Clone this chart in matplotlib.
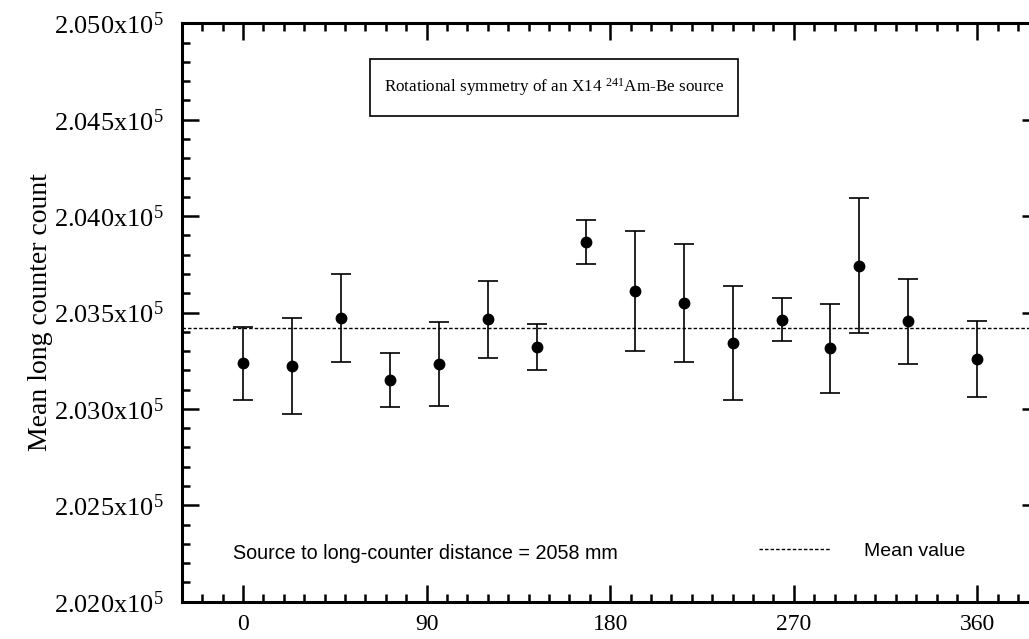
""" Rotational symmetry of an X14 241Am-Be source """
""" Mean long counter count vs. source rotation angle """

import matplotlib
matplotlib.use("Agg")
import matplotlib.pyplot as plt
from matplotlib.patches import Rectangle
from matplotlib.ticker import MultipleLocator, FuncFormatter

plt.rcParams['font.family'] = ['Liberation Serif', 'DejaVu Serif']
plt.rcParams['mathtext.fontset'] = 'custom'
plt.rcParams['mathtext.rm'] = 'Liberation Serif'
plt.rcParams['mathtext.it'] = 'Liberation Serif:italic'

# Data (angle in degrees, mean count, 1 sigma)
angle = [0, 24, 48, 72, 96, 120, 144, 168, 192, 216, 240, 264, 288, 302, 326, 360]
counts = [203237, 203224, 203473, 203148, 203233, 203466, 203321, 203867,
          203612, 203549, 203343, 203463, 203314, 203743, 203454, 203259]
errors = [190, 250, 228, 140, 220, 200, 118, 114,
          312, 305, 295, 112, 232, 350, 219, 197]
mean_value = 203421

x_ticks = [0, 90, 180, 270, 360]

fig = plt.figure(figsize=(10.29, 6.39), dpi=100)
ax = fig.add_axes([0.1766, 0.0584, 0.8327, 0.9051])

ax.errorbar(angle, counts, yerr=errors, fmt='o', color='black', ms=7.5,
            ecolor='black', elinewidth=1.2, capsize=7, capthick=1.2)
ax.axhline(mean_value, color='black', linewidth=1.0, linestyle=(0, (2.5, 1.5)),
           label='Mean value')

ax.set_xlim(-30, 390)
ax.set_ylim(202000, 205000)
ax.set_xticks(x_ticks)
ax.xaxis.set_minor_locator(MultipleLocator(10))
ax.yaxis.set_major_locator(MultipleLocator(500))
ax.yaxis.set_minor_locator(MultipleLocator(100))
ax.yaxis.set_major_formatter(FuncFormatter(
    lambda v, p: r'$\mathrm{%.3fx10^{5}}$' % (v / 1e5)))

ax.tick_params(which='both', direction='in', top=True, right=True, width=1.8)
ax.tick_params(which='major', length=12)
ax.tick_params(which='minor', length=6)
ax.tick_params(axis='y', pad=13, labelsize=19)
ax.tick_params(axis='x', pad=9, labelsize=17)
for s in ax.spines.values():
    s.set_linewidth(2.2)

ax.set_ylabel('Mean long counter count', fontsize=20, labelpad=1)

# title box
ax.add_patch(Rectangle((0.2197, 0.8397), 0.4294, 0.0986, transform=ax.transAxes,
                       fc='white', ec='black', lw=1.2))
ax.text(0.4344, 0.889, r'Rotational symmetry of an X14 $^{241}$Am-Be source',
        transform=ax.transAxes, ha='center', va='center', fontsize=12.3)

ax.text(0.0599, 0.0825, 'Source to long-counter distance = 2058 mm',
        transform=ax.transAxes, ha='left', va='center', fontsize=14.2,
        family=['Liberation Sans', 'DejaVu Sans'])

ax.legend(loc='center left', bbox_to_anchor=(0.6737, 0.0870), frameon=False,
          borderpad=0, borderaxespad=0, handlelength=3.7, handletextpad=1.7,
          prop={'family': ['Liberation Sans', 'DejaVu Sans'], 'size': 14})

fig.savefig('out.png', dpi=100)
